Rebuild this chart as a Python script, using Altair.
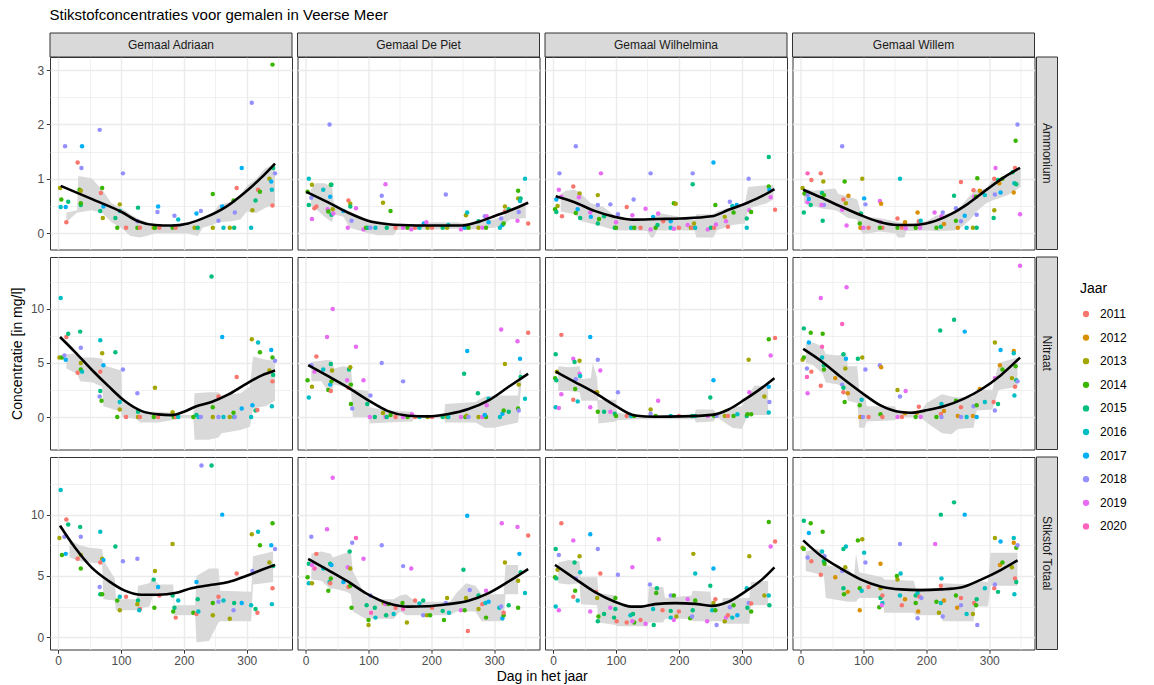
import altair as alt
import pandas as pd

# ---- categories -------------------------------------------------------------
JAREN = [str(j) for j in range(2011, 2021)]
KLEUREN = ["#F8766D", "#D89000", "#A3A500", "#39B600", "#00BF7D",
           "#00BFC4", "#00B0F6", "#9590FF", "#E76BF3", "#FF62BC"]
GEMALEN = ["Gemaal Adriaan", "Gemaal De Piet", "Gemaal Wilhelmina", "Gemaal Willem"]
STOFFEN = ["Ammonium", "Nitraat", "Stikstof Totaal"]

# ---- axis ranges and grid breaks -------------------------------------------
X_DOMEIN = [-13, 372]
X_RASTER = [0, 50, 100, 150, 200, 250, 300, 350]
Y_DOMEIN = {"Ammonium": [-0.3, 3.24], "Nitraat": [-3.0, 14.8], "Stikstof Totaal": [-1.0, 14.7]}
Y_RASTER = {"Ammonium": [0, 0.5, 1, 1.5, 2, 2.5, 3],
            "Nitraat": [0, 2.5, 5, 7.5, 10, 12.5],
            "Stikstof Totaal": [0, 2.5, 5, 7.5, 10, 12.5]}
Y_STAP = {"Ammonium": 1, "Nitraat": 5, "Stikstof Totaal": 5}

# ---- measurements: (day of year, concentration, year) ----------------------
AMMONIUM_ADRIAAN = [
    (3, 0.83, 2013), (5, 0.62, 2014), (4, 0.48, 2016), (11, 1.6, 2018), (12, 0.48, 2017),
    (13, 0.2, 2011), (16, 0.58, 2015), (31, 1.3, 2011), (34, 0.8, 2014), (36, 0.52, 2015),
    (37, 1.2, 2018), (38, 1.6, 2017), (36, 0.55, 2014), (36, 0.78, 2013), (66, 1.9, 2018),
    (68, 0.74, 2011), (70, 0.83, 2014), (67, 0.41, 2015), (71, 0.28, 2013), (72, 0.49, 2017),
    (91, 0.28, 2015), (94, 0.1, 2014), (98, 0.53, 2013), (98, 0.41, 2016), (103, 1.1, 2018),
    (108, 0.1, 2011), (126, 0.1, 2014), (127, 0.47, 2015), (126, 0.22, 2018), (130, 0.1, 2011),
    (152, 0.1, 2013), (154, 0.1, 2014), (158, 0.39, 2018), (159, 0.49, 2017), (161, 0.1, 2011),
    (182, 0.1, 2014), (185, 0.32, 2018), (187, 0.1, 2011), (191, 0.25, 2016), (217, 0.1, 2013),
    (220, 0.36, 2017), (222, 0.1, 2015), (227, 0.41, 2018), (246, 0.72, 2014), (246, 0.1, 2013),
    (255, 0.23, 2018), (261, 0.49, 2017), (263, 0.1, 2016), (273, 0.1, 2013), (279, 0.6, 2014),
    (280, 0.1, 2015), (281, 0.38, 2018), (284, 0.83, 2011), (292, 1.2, 2017), (308, 2.4, 2018),
    (307, 0.1, 2016), (309, 0.42, 2013), (314, 0.6, 2015), (318, 0.8, 2011), (321, 0.76, 2014),
    (336, 1.0, 2013), (339, 0.95, 2017), (340, 0.8, 2016), (341, 0.51, 2011), (341, 3.1, 2014),
    (342, 1.2, 2015), (345, 1.1, 2018),
]
AMMONIUM_DE_PIET = [
    (5, 1.0, 2016), (3, 0.76, 2014), (10, 0.89, 2013), (9, 0.65, 2018), (5, 0.52, 2015),
    (14, 0.46, 2011), (17, 0.49, 2011), (10, 0.26, 2019), (28, 0.8, 2016), (38, 2.0, 2018),
    (40, 0.89, 2014), (41, 0.89, 2015), (39, 0.67, 2017), (35, 0.44, 2019), (36, 0.4, 2014),
    (41, 0.34, 2015), (43, 0.44, 2013), (44, 0.36, 2019), (60, 0.41, 2017), (68, 0.6, 2011),
    (71, 0.54, 2013), (71, 0.49, 2015), (73, 0.23, 2018), (80, 0.46, 2019), (67, 0.1, 2019),
    (92, 0.07, 2019), (96, 0.1, 2014), (99, 0.1, 2015), (103, 0.1, 2018), (111, 0.1, 2016),
    (121, 0.69, 2018), (123, 0.56, 2013), (127, 0.9, 2019), (135, 0.41, 2014), (129, 0.1, 2015),
    (143, 0.1, 2011), (155, 0.1, 2019), (162, 0.1, 2014), (168, 0.07, 2019), (174, 0.1, 2011),
    (181, 0.1, 2016), (188, 0.18, 2017), (192, 0.2, 2019), (194, 0.1, 2013), (201, 0.1, 2011),
    (218, 0.1, 2015), (223, 0.71, 2018), (225, 0.1, 2013), (227, 0.15, 2016), (247, 0.07, 2019),
    (253, 0.1, 2017), (255, 0.33, 2013), (257, 0.38, 2016), (259, 0.1, 2014), (275, 0.22, 2015),
    (275, 0.1, 2013), (281, 0.1, 2019), (285, 0.31, 2018), (288, 0.31, 2019), (287, 0.1, 2014),
    (291, 0.2, 2017), (309, 0.1, 2016), (313, 0.15, 2017), (315, 0.18, 2014), (311, 0.27, 2018),
    (317, 0.49, 2013), (317, 0.4, 2011), (323, 0.44, 2015), (338, 0.78, 2014), (338, 0.64, 2013),
    (342, 0.64, 2015), (341, 0.59, 2016), (349, 1.0, 2016), (339, 0.39, 2018), (337, 0.23, 2019),
    (354, 0.18, 2011),
]
AMMONIUM_WILHELMINA = [
    (10, 1.1, 2018), (9, 0.8, 2019), (13, 0.67, 2019), (5, 0.62, 2017), (7, 0.5, 2013),
    (3, 0.44, 2014), (5, 0.39, 2015), (14, 0.31, 2011), (32, 0.86, 2011), (36, 1.6, 2018),
    (42, 0.73, 2013), (41, 0.66, 2019), (39, 0.44, 2017), (36, 0.37, 2014), (43, 0.28, 2015),
    (59, 0.38, 2019), (60, 0.3, 2017), (71, 0.7, 2013), (71, 0.52, 2018), (73, 0.26, 2014),
    (71, 0.18, 2015), (81, 0.31, 2015), (76, 1.1, 2019), (91, 0.53, 2018), (98, 0.1, 2015),
    (100, 0.2, 2019), (100, 0.1, 2014), (103, 0.35, 2018), (117, 0.48, 2011), (124, 0.1, 2016),
    (126, 0.33, 2019), (128, 0.62, 2018), (129, 0.1, 2014), (139, 0.1, 2011), (147, 0.45, 2019),
    (155, 1.1, 2018), (155, 0.07, 2019), (159, 0.3, 2017), (163, 0.1, 2014), (167, 0.36, 2019),
    (166, 0.15, 2015), (175, 0.22, 2011), (187, 0.22, 2017), (187, 0.1, 2016), (192, 0.55, 2014),
    (195, 0.54, 2013), (192, 0.08, 2019), (200, 0.1, 2011), (214, 0.15, 2019), (219, 0.1, 2013),
    (221, 0.1, 2011), (222, 1.1, 2018), (222, 0.9, 2015), (224, 0.18, 2013), (226, 0.1, 2016),
    (246, 0.07, 2019), (251, 0.1, 2015), (255, 1.3, 2017), (256, 0.1, 2011), (258, 0.52, 2014),
    (259, 0.16, 2019), (273, 0.3, 2013), (275, 0.22, 2019), (278, 0.12, 2011), (281, 0.58, 2018),
    (285, 0.5, 2016), (287, 0.38, 2014), (292, 0.52, 2017), (308, 0.27, 2015), (308, 0.1, 2016),
    (311, 1.0, 2018), (312, 0.42, 2019), (315, 0.39, 2014), (343, 1.4, 2015), (343, 0.86, 2014),
    (344, 0.8, 2017), (346, 0.66, 2019), (353, 0.43, 2011),
]
AMMONIUM_WILLEM = [
    (3, 0.83, 2013), (6, 0.73, 2014), (11, 1.1, 2020), (17, 0.98, 2011), (32, 1.1, 2011),
    (36, 0.95, 2013), (5, 0.38, 2015), (11, 0.57, 2019), (13, 0.63, 2017), (16, 0.52, 2015),
    (11, 0.7, 2018), (34, 0.74, 2015), (37, 0.7, 2014), (37, 0.52, 2018), (33, 0.52, 2019),
    (35, 0.23, 2015), (66, 1.6, 2018), (70, 0.95, 2014), (68, 0.62, 2011), (72, 0.55, 2013),
    (76, 0.69, 2012), (66, 0.43, 2019), (73, 0.14, 2019), (98, 1.0, 2013), (101, 0.64, 2017),
    (103, 0.53, 2018), (96, 0.36, 2015), (94, 0.18, 2014), (95, 0.1, 2012), (100, 0.1, 2019),
    (108, 0.1, 2011), (126, 0.59, 2019), (128, 0.54, 2012), (127, 0.2, 2019), (130, 0.1, 2011),
    (126, 0.1, 2014), (158, 1.0, 2016), (154, 0.27, 2011), (154, 0.1, 2014), (161, 0.1, 2011),
    (167, 0.09, 2019), (166, 0.2, 2012), (186, 0.38, 2012), (188, 0.22, 2011), (191, 0.23, 2016),
    (190, 0.1, 2019), (183, 0.1, 2014), (213, 0.38, 2019), (216, 0.1, 2014), (224, 0.31, 2019),
    (226, 0.38, 2018), (223, 0.12, 2015), (228, 0.17, 2012), (244, 0.69, 2015), (247, 0.46, 2018),
    (247, 0.23, 2014), (250, 0.1, 2012), (255, 0.94, 2011), (261, 0.32, 2017), (255, 0.22, 2018),
    (264, 0.1, 2016), (274, 0.1, 2013), (280, 0.1, 2015), (280, 0.34, 2018), (275, 0.79, 2011),
    (276, 0.67, 2019), (279, 0.67, 2014), (281, 1.01, 2014), (285, 0.78, 2012), (293, 0.7, 2016),
    (308, 1.0, 2011), (310, 1.2, 2019), (309, 0.71, 2018), (308, 0.42, 2013), (307, 0.28, 2015),
    (314, 0.98, 2015), (316, 0.92, 2012), (318, 0.75, 2017), (321, 1.0, 2014), (337, 1.12, 2015),
    (341, 1.2, 2011), (340, 0.92, 2016), (343, 0.9, 2015), (339, 0.75, 2012), (342, 1.7, 2014),
    (345, 2.0, 2018), (349, 0.35, 2019),
]
NITRAAT_ADRIAAN = [
    (4, 11.0, 2016), (2, 5.5, 2013), (6, 5.5, 2014), (10, 5.7, 2018), (12, 5.3, 2017),
    (13, 7.4, 2011), (16, 7.7, 2015), (35, 7.9, 2015), (36, 6.4, 2018), (36, 5.0, 2013),
    (36, 4.4, 2014), (38, 4.2, 2016), (31, 4.1, 2011), (67, 7.1, 2016), (70, 5.9, 2013),
    (72, 4.8, 2017), (67, 4.2, 2011), (67, 2.4, 2015), (66, 1.9, 2018), (69, 1.5, 2014),
    (91, 6.0, 2015), (103, 4.4, 2018), (98, 1.4, 2016), (98, 0.7, 2013), (94, 0.0, 2014),
    (108, 0.0, 2011), (126, 2.2, 2018), (127, 0.5, 2015), (127, 0.0, 2013), (130, 0.0, 2011),
    (154, 2.7, 2013), (152, 0.0, 2014), (159, 0.0, 2011), (182, 0.45, 2013), (184, 0.0, 2014),
    (187, 0.0, 2011), (191, 0.0, 2016), (244, 13.0, 2015), (215, 0.0, 2014), (220, 0.2, 2015),
    (223, 0.0, 2016), (227, 0.0, 2018), (246, 0.9, 2014), (246, 0.0, 2013), (255, 1.9, 2011),
    (255, 0.0, 2018), (261, 7.4, 2017), (263, 0.0, 2016), (273, 0.0, 2013), (279, 0.4, 2014),
    (280, 0.0, 2015), (281, 0.0, 2018), (284, 3.7, 2011), (292, 0.8, 2017), (307, 0.0, 2016),
    (308, 7.2, 2013), (309, 1.1, 2017), (314, 0.6, 2015), (317, 0.65, 2011), (318, 6.9, 2016),
    (321, 6.0, 2014), (336, 4.3, 2013), (339, 6.2, 2017), (340, 1.0, 2016), (341, 3.3, 2011),
    (341, 5.5, 2014), (342, 3.9, 2015), (345, 5.2, 2018),
]
NITRAAT_DE_PIET = [
    (3, 3.4, 2014), (5, 1.8, 2016), (9, 4.8, 2018), (10, 2.8, 2013), (17, 5.6, 2011),
    (14, 4.2, 2019), (34, 7.4, 2019), (43, 10.0, 2019), (28, 4.4, 2016), (40, 4.9, 2015),
    (42, 4.3, 2013), (39, 3.0, 2017), (41, 3.3, 2014), (36, 2.5, 2014), (40, 2.4, 2011),
    (66, 3.4, 2019), (69, 4.4, 2015), (71, 4.6, 2013), (72, 3.0, 2014), (80, 6.5, 2019),
    (72, 1.2, 2014), (74, 0.8, 2018), (68, 2.7, 2011), (92, 3.4, 2019), (98, 1.2, 2015),
    (103, 2.0, 2018), (102, 0.0, 2019), (110, 0.0, 2015), (121, 5.0, 2018), (123, 0.37, 2013),
    (127, 0.0, 2019), (135, 0.2, 2014), (129, 0.0, 2015), (143, 0.0, 2011), (155, 3.3, 2018),
    (155, 0.0, 2019), (162, 0.0, 2014), (169, 0.25, 2019), (174, 0.0, 2011), (181, 0.0, 2016),
    (194, 0.0, 2013), (201, 0.0, 2011), (218, 0.0, 2015), (225, 0.0, 2013), (227, 0.0, 2016),
    (247, 0.0, 2019), (257, 6.1, 2017), (252, 4.0, 2015), (254, 0.0, 2014), (256, 0.12, 2013),
    (259, 0.0, 2018), (274, 2.2, 2015), (275, 0.0, 2013), (281, 0.0, 2019), (287, 0.0, 2014),
    (288, 1.1, 2019), (291, 1.7, 2016), (285, 0.2, 2017), (309, 0.0, 2016), (313, 0.3, 2017),
    (315, 0.6, 2014), (311, 8.1, 2019), (317, 4.9, 2013), (323, 0.5, 2015), (337, 7.0, 2019),
    (341, 5.4, 2017), (338, 0.8, 2014), (339, 0.6, 2018), (342, 3.7, 2015), (339, 3.0, 2013),
    (349, 1.7, 2016), (354, 7.8, 2011),
]
NITRAAT_WILHELMINA = [
    (13, 7.6, 2011), (4, 5.8, 2015), (32, 5.4, 2019), (34, 5.1, 2015), (42, 5.2, 2013),
    (59, 7.4, 2017), (71, 5.3, 2018), (75, 4.3, 2019), (3, 3.6, 2014), (5, 3.4, 2015),
    (6, 4.2, 2013), (42, 4.0, 2019), (43, 3.8, 2016), (36, 3.5, 2018), (35, 2.6, 2014),
    (13, 2.1, 2019), (32, 1.6, 2011), (39, 1.45, 2016), (4, 0.9, 2016), (9, 0.83, 2019),
    (59, 0.9, 2019), (68, 2.3, 2011), (70, 2.3, 2013), (71, 0.5, 2014), (81, 0.5, 2015),
    (91, 0.5, 2019), (98, 0.3, 2015), (100, 0.1, 2014), (103, 2.3, 2018), (117, 0.1, 2011),
    (124, 0.1, 2016), (129, 0.1, 2014), (155, 0.7, 2013), (155, 0.3, 2018), (167, 1.5, 2019),
    (163, 0.1, 2014), (187, 0.1, 2016), (200, 0.1, 2011), (221, 0.1, 2015), (226, 0.1, 2016),
    (246, 0.1, 2019), (250, 1.8, 2015), (255, 3.4, 2017), (256, 0.1, 2014), (260, 0.1, 2018),
    (273, 0.1, 2013), (278, 0.1, 2011), (287, 0.1, 2014), (293, 0.25, 2016), (308, 0.1, 2015),
    (309, 0.25, 2014), (315, 0.25, 2014), (311, 5.3, 2013), (312, 2.3, 2019), (336, 1.9, 2013),
    (343, 2.8, 2017), (343, 7.2, 2014), (344, 1.4, 2018), (343, 0.43, 2016), (346, 5.7, 2019),
    (353, 7.3, 2011),
]
NITRAAT_WILLEM = [
    (5, 8.2, 2015), (16, 7.8, 2014), (35, 7.7, 2014), (32, 11.0, 2019), (73, 12.0, 2019),
    (66, 8.6, 2020), (13, 6.9, 2017), (3, 5.3, 2013), (5, 5.5, 2014), (34, 6.5, 2020),
    (34, 5.5, 2016), (37, 4.8, 2015), (37, 4.4, 2014), (10, 4.5, 2018), (17, 4.2, 2011),
    (10, 3.7, 2020), (32, 2.9, 2011), (11, 2.2, 2019), (55, 3.6, 2012), (68, 5.8, 2015),
    (72, 5.4, 2017), (71, 4.5, 2013), (66, 3.0, 2018), (68, 2.7, 2015), (68, 2.3, 2011),
    (75, 2.2, 2012), (70, 1.4, 2014), (91, 5.4, 2015), (98, 5.5, 2013), (103, 4.4, 2018),
    (97, 1.6, 2016), (94, 1.1, 2014), (95, 0.0, 2012), (99, 0.0, 2018), (108, 0.0, 2011),
    (126, 4.8, 2018), (128, 4.6, 2012), (127, 0.25, 2014), (130, 0.0, 2011), (154, 2.5, 2013),
    (158, 1.9, 2018), (167, 2.4, 2019), (154, 0.0, 2019), (161, 0.0, 2011), (166, 0.35, 2012),
    (188, 0.95, 2011), (185, 0.4, 2012), (183, 0.0, 2014), (191, 0.0, 2019), (222, 8.0, 2015),
    (244, 9.0, 2015), (261, 7.9, 2017), (224, 1.2, 2016), (228, 0.55, 2012), (223, 0.28, 2011),
    (216, 0.0, 2014), (224, 0.0, 2018), (247, 1.5, 2014), (255, 0.9, 2011), (250, 0.1, 2012),
    (255, 0.0, 2018), (264, 0.0, 2016), (274, 0.1, 2012), (275, 1.0, 2018), (280, 1.1, 2014),
    (280, 0.0, 2017), (285, 2.6, 2012), (293, 1.4, 2016), (307, 1.4, 2011), (309, 0.6, 2018),
    (314, 1.2, 2015), (309, 6.9, 2013), (318, 6.2, 2017), (317, 4.8, 2012), (321, 4.4, 2014),
    (309, 3.6, 2019), (336, 3.6, 2013), (339, 6.1, 2012), (339, 5.9, 2016), (342, 4.7, 2014),
    (343, 3.4, 2015), (345, 3.3, 2018), (341, 2.8, 2011), (340, 2.0, 2016), (349, 14.0, 2019),
]
TOTAAL_ADRIAAN = [
    (4, 12.0, 2016), (2, 8.1, 2013), (6, 6.7, 2014), (10, 8.2, 2018), (12, 6.8, 2017),
    (13, 9.6, 2011), (16, 9.2, 2015), (35, 9.0, 2015), (36, 8.2, 2018), (36, 6.7, 2013),
    (36, 5.6, 2014), (31, 6.4, 2011), (67, 8.6, 2016), (70, 6.4, 2013), (72, 6.3, 2017),
    (67, 6.1, 2011), (66, 4.1, 2018), (67, 3.5, 2015), (70, 3.5, 2014), (91, 7.4, 2015),
    (103, 6.2, 2018), (98, 3.3, 2016), (98, 2.2, 2013), (94, 3.0, 2014), (108, 3.3, 2011),
    (126, 6.4, 2018), (127, 3.0, 2015), (126, 2.7, 2013), (130, 2.3, 2011), (129, 2.2, 2016),
    (154, 5.4, 2013), (152, 4.7, 2015), (153, 2.4, 2014), (159, 4.1, 2017), (161, 3.4, 2011),
    (182, 7.6, 2013), (182, 3.4, 2015), (183, 2.1, 2014), (185, 2.4, 2015), (187, 1.6, 2011),
    (191, 3.0, 2016), (228, 14.0, 2018), (244, 14.0, 2015), (220, 4.5, 2017), (222, 3.1, 2015),
    (215, 2.0, 2014), (220, 1.9, 2011), (223, 2.1, 2016), (246, 2.8, 2014), (246, 1.8, 2013),
    (255, 3.3, 2011), (255, 2.9, 2018), (261, 10.0, 2017), (263, 3.0, 2016), (273, 1.5, 2013),
    (279, 2.2, 2018), (280, 2.8, 2015), (284, 5.2, 2011), (292, 2.8, 2017), (307, 2.6, 2016),
    (308, 8.4, 2013), (309, 5.4, 2018), (314, 2.3, 2015), (317, 2.0, 2011), (318, 8.6, 2016),
    (321, 7.5, 2014), (336, 6.1, 2013), (339, 7.5, 2017), (340, 2.7, 2016), (341, 4.0, 2011),
    (341, 9.3, 2014), (342, 5.8, 2015), (345, 7.2, 2018),
]
TOTAAL_DE_PIET = [
    (3, 4.9, 2014), (5, 4.4, 2016), (10, 4.4, 2013), (5, 6.0, 2015), (9, 8.2, 2018),
    (10, 5.9, 2019), (14, 5.6, 2020), (17, 6.8, 2011), (34, 8.8, 2019), (43, 13.0, 2019),
    (28, 5.6, 2016), (39, 6.0, 2015), (41, 5.9, 2017), (38, 4.5, 2016), (40, 4.8, 2014),
    (36, 3.8, 2014), (39, 4.4, 2011), (60, 4.5, 2017), (67, 5.7, 2019), (68, 4.1, 2011),
    (70, 7.0, 2015), (71, 5.6, 2013), (71, 4.2, 2014), (73, 2.4, 2014), (74, 7.7, 2018),
    (80, 8.1, 2020), (92, 6.4, 2019), (97, 2.6, 2015), (100, 1.4, 2014), (100, 1.0, 2013),
    (103, 3.4, 2018), (104, 2.0, 2020), (110, 2.4, 2015), (111, 1.6, 2016), (121, 7.5, 2018),
    (124, 2.8, 2013), (127, 2.7, 2019), (128, 1.8, 2015), (132, 2.7, 2014), (140, 1.9, 2016),
    (143, 2.4, 2011), (155, 5.8, 2018), (155, 2.3, 2020), (154, 2.8, 2014), (161, 1.2, 2013),
    (168, 5.6, 2019), (174, 3.0, 2011), (181, 2.75, 2016), (187, 3.0, 2015), (187, 1.8, 2018),
    (193, 1.8, 2013), (198, 1.8, 2014), (201, 2.4, 2011), (218, 2.15, 2015), (223, 2.8, 2018),
    (225, 3.2, 2013), (220, 1.4, 2014), (228, 2.0, 2016), (247, 2.2, 2019), (253, 2.2, 2014),
    (255, 3.2, 2013), (251, 5.5, 2015), (257, 9.9, 2017), (261, 3.85, 2018), (258, 0.5, 2011),
    (275, 3.4, 2015), (275, 2.3, 2013), (281, 2.7, 2011), (287, 3.8, 2019), (286, 2.8, 2016),
    (287, 1.6, 2014), (291, 2.9, 2017), (308, 2.4, 2016), (311, 2.5, 2018), (312, 9.3, 2019),
    (313, 1.55, 2017), (315, 1.8, 2014), (317, 6.1, 2013), (315, 2.0, 2011), (323, 2.6, 2015),
    (337, 9.0, 2019), (340, 6.8, 2017), (338, 4.6, 2013), (338, 2.4, 2014), (342, 5.3, 2015),
    (349, 3.6, 2016), (354, 8.3, 2011),
]
TOTAAL_WILHELMINA = [
    (13, 9.3, 2011), (4, 7.2, 2015), (9, 6.7, 2018), (32, 7.9, 2019), (34, 6.1, 2015),
    (42, 6.6, 2013), (59, 8.4, 2017), (71, 7.2, 2018), (75, 5.2, 2011), (3, 4.9, 2014),
    (5, 4.8, 2015), (7, 5.5, 2013), (43, 5.3, 2016), (36, 4.8, 2018), (35, 3.8, 2014),
    (32, 3.3, 2011), (39, 3.0, 2016), (4, 2.5, 2016), (9, 2.2, 2019), (59, 2.1, 2019),
    (68, 3.7, 2011), (70, 3.2, 2013), (72, 1.7, 2014), (71, 1.3, 2015), (81, 1.9, 2015),
    (91, 2.4, 2019), (97, 1.6, 2015), (99, 3.2, 2014), (99, 2.3, 2015), (101, 1.3, 2011),
    (103, 5.1, 2018), (117, 1.2, 2011), (123, 1.8, 2016), (126, 5.7, 2019), (127, 1.9, 2015),
    (129, 1.2, 2014), (126, 1.3, 2019), (139, 1.4, 2011), (147, 1.1, 2019), (154, 4.3, 2018),
    (164, 3.6, 2014), (165, 4.0, 2015), (159, 2.3, 2016), (160, 1.0, 2015), (168, 8.0, 2019),
    (174, 2.2, 2011), (187, 3.4, 2018), (187, 2.15, 2015), (187, 1.6, 2016), (192, 3.4, 2014),
    (196, 1.7, 2013), (192, 1.4, 2019), (200, 2.1, 2011), (214, 3.1, 2019), (218, 1.55, 2014),
    (222, 2.2, 2015), (223, 6.8, 2013), (226, 3.0, 2014), (221, 1.7, 2018), (226, 5.2, 2016),
    (245, 1.3, 2019), (250, 4.2, 2015), (255, 5.6, 2017), (253, 2.2, 2016), (255, 2.8, 2013),
    (258, 3.1, 2011), (258, 2.2, 2014), (260, 1.0, 2018), (273, 1.3, 2013), (275, 1.6, 2019),
    (278, 1.8, 2011), (281, 2.45, 2018), (285, 1.6, 2016), (287, 2.6, 2014), (293, 1.8, 2017),
    (308, 4.0, 2016), (309, 2.4, 2015), (311, 2.8, 2018), (312, 6.6, 2013), (315, 2.1, 2014),
    (315, 2.75, 2011), (336, 3.4, 2013), (343, 9.4, 2014), (343, 3.4, 2016), (344, 2.6, 2015),
    (346, 7.4, 2019), (353, 7.8, 2011),
]
TOTAAL_WILLEM = [
    (5, 9.5, 2015), (16, 9.3, 2014), (35, 8.6, 2014), (13, 8.5, 2017), (3, 7.3, 2013),
    (5, 7.2, 2014), (34, 7.0, 2016), (11, 6.5, 2018), (17, 6.2, 2011), (32, 5.1, 2011),
    (37, 6.2, 2015), (38, 6.0, 2014), (38, 6.6, 2018), (55, 4.9, 2012), (68, 7.2, 2015),
    (72, 7.4, 2016), (71, 5.7, 2013), (66, 5.4, 2018), (68, 4.0, 2015), (69, 3.5, 2014),
    (75, 3.7, 2012), (91, 7.9, 2014), (98, 8.0, 2013), (101, 6.9, 2016), (103, 6.1, 2018),
    (94, 4.0, 2014), (97, 3.8, 2016), (94, 2.2, 2012), (108, 4.1, 2011), (127, 6.0, 2012),
    (127, 4.0, 2013), (125, 2.45, 2014), (127, 3.2, 2015), (130, 3.4, 2011), (130, 2.8, 2016),
    (129, 2.6, 2019), (158, 7.6, 2018), (159, 5.2, 2016), (153, 5.0, 2014), (154, 4.7, 2013),
    (158, 3.4, 2016), (161, 2.6, 2011), (166, 3.1, 2012), (183, 3.4, 2015), (186, 3.6, 2016),
    (183, 2.8, 2014), (189, 3.3, 2011), (192, 3.2, 2018), (187, 2.1, 2012), (186, 1.55, 2018),
    (214, 7.6, 2019), (216, 2.9, 2014), (223, 10.0, 2015), (224, 4.8, 2016), (223, 4.2, 2011),
    (220, 2.0, 2013), (223, 2.8, 2016), (226, 1.7, 2018), (228, 3.0, 2012), (244, 11.0, 2015),
    (261, 10.0, 2017), (247, 3.4, 2014), (249, 2.4, 2012), (255, 3.2, 2011), (255, 2.6, 2018),
    (264, 1.9, 2016), (274, 1.9, 2013), (276, 2.8, 2011), (279, 2.6, 2014), (280, 3.1, 2015),
    (281, 1.0, 2018), (293, 4.0, 2016), (308, 4.0, 2011), (309, 8.1, 2013), (309, 4.3, 2018),
    (314, 3.7, 2015), (318, 7.8, 2017), (317, 5.9, 2012), (321, 6.1, 2014), (339, 8.1, 2016),
    (339, 7.7, 2012), (336, 5.7, 2013), (343, 7.3, 2014), (345, 7.5, 2018), (341, 4.8, 2011),
    (343, 4.5, 2015), (340, 3.5, 2016),
]

# ---- grey bands: (day, lower, upper) ----------------------------------------
BAND_AMMONIUM_ADRIAAN = [
    (13, 0.2, 0.38), (30, 0.38, 0.42), (32, 0.38, 1.05), (53, 0.42, 1.01), (70, 0.37, 0.80),
    (85, 0.20, 0.55), (100, 0.10, 0.47), (115, -0.05, 0.35), (130, -0.08, 0.25), (140, -0.05, 0.20),
    (155, 0.0, 0.17), (180, 0.0, 0.14), (205, 0.0, 0.14), (222, -0.05, 0.20), (230, 0.10, 0.25),
    (245, 0.15, 0.33), (255, 0.20, 0.52), (275, 0.22, 0.58), (290, 0.25, 0.70), (300, 0.40, 0.87),
    (315, 0.37, 1.00), (330, 0.47, 1.20), (345, 0.53, 1.26),
]
BAND_AMMONIUM_DE_PIET = [
    (8, 0.50, 0.80), (16, 0.45, 0.92), (30, 0.30, 0.92), (42, 0.20, 0.85), (45, 0.35, 0.55),
    (60, 0.30, 0.45), (70, 0.10, 0.40), (85, 0.05, 0.32), (100, 0.0, 0.25), (115, -0.04, 0.22),
    (140, -0.04, 0.18), (145, 0.06, 0.17), (180, 0.07, 0.17), (200, 0.07, 0.20), (240, 0.08, 0.20),
    (255, 0.06, 0.18), (275, 0.08, 0.22), (300, 0.10, 0.25), (315, 0.15, 0.32), (325, 0.25, 0.45),
    (350, 0.28, 0.56),
]
BAND_AMMONIUM_WILHELMINA = [
    (12, 0.40, 0.72), (20, 0.38, 0.78), (35, 0.35, 0.80), (45, 0.22, 0.72), (60, 0.18, 0.55),
    (80, 0.12, 0.48), (100, 0.05, 0.30), (120, 0.05, 0.26), (150, 0.04, 0.26), (155, -0.08, 0.25),
    (160, -0.08, 0.25), (165, 0.05, 0.38), (200, 0.05, 0.30), (225, 0.05, 0.25), (228, -0.08, 0.35),
    (255, -0.08, 0.35), (260, 0.05, 0.40), (285, 0.15, 0.48), (305, 0.18, 0.55), (310, 0.45, 0.85),
    (340, 0.55, 0.88), (350, 0.62, 0.88),
]
BAND_AMMONIUM_WILLEM = [
    (5, 0.55, 0.82), (20, 0.50, 0.78), (35, 0.45, 0.80), (55, 0.42, 0.82), (60, 0.40, 0.72),
    (75, 0.28, 0.68), (90, 0.25, 0.62), (95, 0.05, 0.42), (100, -0.02, 0.30), (125, 0.03, 0.28),
    (150, 0.0, 0.22), (155, -0.08, 0.20), (165, -0.08, 0.18), (168, 0.04, 0.17), (200, 0.05, 0.22),
    (215, 0.04, 0.32), (245, 0.05, 0.38), (255, 0.10, 0.50), (270, 0.25, 0.70), (280, 0.40, 0.80),
    (295, 0.55, 0.82), (305, 0.60, 0.98), (330, 0.70, 1.05), (350, 0.85, 1.18),
]
BAND_NITRAAT_ADRIAAN = [
    (13, 4.5, 5.8), (30, 4.0, 5.9), (35, 3.3, 5.5), (55, 3.2, 5.5), (70, 2.8, 5.4),
    (72, 1.0, 4.8), (100, 0.5, 4.3), (102, 0.0, 1.5), (125, -0.2, 0.8), (130, -0.5, 0.5),
    (160, -0.5, 0.5), (180, -0.3, 0.4), (195, -0.1, 0.2), (215, -0.1, 0.2), (217, -2.1, 2.2),
    (240, -2.1, 2.3), (255, -1.9, 2.3), (260, -1.5, 2.0), (290, -1.2, 2.2), (305, -0.9, 2.8),
    (310, 0.8, 5.6), (330, 1.0, 5.3), (345, 1.5, 5.2),
]
BAND_NITRAAT_DE_PIET = [
    (9, 3.3, 5.1), (25, 3.3, 5.2), (35, 2.4, 5.3), (42, 2.4, 5.2), (45, 3.0, 4.5),
    (60, 2.8, 4.7), (72, 2.5, 4.6), (75, 0.0, 2.6), (100, 0.0, 2.4), (102, -0.6, 0.9),
    (130, -0.5, 0.6), (170, -0.4, 0.5), (172, -0.1, 0.1), (220, -0.1, 0.1), (222, -0.5, 1.2),
    (270, -0.5, 1.4), (285, -1.0, 1.9), (300, -1.0, 2.0), (338, -0.5, 2.0), (340, 0.8, 4.3),
    (343, 3.0, 4.4),
]
BAND_NITRAAT_WILHELMINA = [
    (8, 2.4, 4.7), (25, 2.4, 4.6), (42, 2.3, 4.7), (45, 1.5, 3.5), (60, 1.5, 3.6),
    (63, 1.5, 5.0), (70, 1.5, 3.6), (72, -0.6, 1.6), (100, -0.4, 1.6), (102, -0.3, 0.4),
    (130, -0.2, 0.2), (225, -0.2, 0.2), (227, -0.5, 0.7), (255, -0.4, 0.7), (260, 0.0, 0.3),
    (285, -1.0, 0.9), (300, -1.1, 1.0), (310, 0.2, 2.0), (320, 0.2, 2.9), (342, 0.2, 2.9),
]
BAND_NITRAAT_WILLEM = [
    (8, 5.0, 6.8), (20, 4.8, 6.9), (35, 4.0, 6.5), (40, 3.2, 5.8), (60, 3.0, 5.7),
    (72, 2.5, 6.0), (75, 1.5, 4.7), (90, 1.3, 4.7), (93, -1.0, 2.5), (102, -1.0, 2.3),
    (105, -0.4, 1.0), (150, -0.3, 1.0), (155, 0.0, 0.4), (190, 0.0, 0.4), (200, -0.5, 1.3),
    (225, -1.5, 2.1), (240, -1.6, 1.9), (250, -1.1, 1.8), (275, -1.0, 1.9), (280, 0.6, 2.6),
    (305, 0.7, 2.5), (315, 2.5, 5.0), (345, 2.8, 5.5),
]
BAND_TOTAAL_ADRIAAN = [
    (18, 6.5, 7.9), (35, 6.2, 7.5), (50, 6.1, 7.3), (70, 6.0, 7.2), (72, 3.1, 6.3),
    (90, 3.0, 4.8), (92, 2.2, 3.1), (125, 2.2, 3.1), (127, 2.3, 4.2), (145, 2.5, 4.4),
    (150, 3.3, 4.9), (160, 3.4, 4.3), (183, 3.4, 4.3), (185, 1.8, 2.6), (218, 1.8, 2.6),
    (220, -0.4, 5.0), (240, -0.3, 5.6), (255, 1.2, 5.6), (258, 1.3, 3.8), (307, 1.3, 3.7),
    (310, 4.3, 6.6), (342, 4.5, 7.0),
]
BAND_TOTAAL_DE_PIET = [
    (9, 4.7, 6.8), (25, 4.6, 7.0), (40, 3.9, 6.8), (43, 4.0, 6.5), (65, 3.7, 6.9),
    (72, 3.5, 7.0), (75, 2.1, 5.4), (95, 1.5, 3.4), (110, 1.5, 3.1), (140, 1.5, 3.1),
    (150, 2.1, 3.4), (160, 1.8, 3.5), (175, 1.8, 2.9), (230, 1.8, 2.9), (240, 2.1, 3.6),
    (255, 2.1, 4.4), (270, 2.1, 4.2), (280, 1.3, 3.5), (315, 1.3, 3.5), (318, 3.5, 5.9),
    (338, 3.5, 5.9),
]
BAND_TOTAAL_WILHELMINA = [
    (8, 4.4, 6.1), (25, 4.3, 6.3), (42, 4.4, 6.2), (44, 2.7, 4.9), (70, 2.6, 4.9),
    (72, 1.2, 3.6), (100, 1.0, 3.4), (102, 0.9, 2.6), (150, 0.9, 2.4), (152, 1.2, 4.1),
    (175, 1.2, 4.1), (178, 1.5, 3.2), (220, 1.5, 3.4), (222, 1.3, 3.8), (250, 1.3, 3.7),
    (253, 1.3, 2.5), (268, 1.3, 2.5), (270, 1.1, 3.2), (312, 1.1, 3.2), (315, 2.6, 4.5),
    (342, 2.6, 4.6),
]
BAND_TOTAAL_WILLEM = [
    (8, 5.4, 7.0), (25, 5.2, 7.2), (37, 5.0, 7.1), (40, 3.2, 5.9), (75, 2.9, 5.6),
    (85, 2.9, 5.0), (88, 2.9, 6.8), (93, 3.2, 5.3), (130, 3.2, 4.9), (133, 2.0, 4.7),
    (180, 2.0, 4.6), (183, 1.8, 4.0), (223, 1.8, 4.0), (226, 1.3, 4.4), (275, 1.3, 4.3),
    (278, 2.5, 4.6), (298, 2.5, 4.5), (302, 4.2, 6.9), (345, 4.2, 6.9),
]

# ---- seasonal trend lines: (day, concentration) -----------------------------
TREND_AMMONIUM_ADRIAAN = [(4, 0.87), (53, 0.63), (101, 0.39), (127, 0.22), (154, 0.15), (180, 0.14),
                          (207, 0.18), (234, 0.29), (265, 0.47), (297, 0.75), (324, 1.03), (345, 1.28)]
TREND_AMMONIUM_DE_PIET = [(1, 0.76), (35, 0.57), (67, 0.38), (99, 0.23), (128, 0.17), (152, 0.15),
                          (200, 0.14), (248, 0.14), (275, 0.21), (302, 0.32), (328, 0.43), (354, 0.56)]
TREND_AMMONIUM_WILHELMINA = [(4, 0.68), (34, 0.57), (66, 0.41), (98, 0.30), (127, 0.25), (167, 0.26),
                             (204, 0.27), (252, 0.31), (279, 0.43), (311, 0.57), (332, 0.68), (352, 0.81)]
TREND_AMMONIUM_WILLEM = [(4, 0.80), (32, 0.66), (64, 0.49), (96, 0.33), (122, 0.22), (154, 0.15), (181, 0.15),
                         (207, 0.20), (239, 0.35), (266, 0.54), (297, 0.81), (324, 1.03), (349, 1.20)]
TREND_NITRAAT_ADRIAAN = [(3, 7.4), (27, 6.0), (53, 4.4), (80, 2.86), (106, 1.48), (133, 0.55), (159, 0.25),
                         (181, 0.18), (199, 0.46), (218, 0.95), (244, 1.4), (271, 2.1), (297, 3.0),
                         (324, 3.85), (345, 4.3)]
TREND_NITRAAT_DE_PIET = [(4, 4.8), (35, 3.8), (67, 2.74), (99, 1.57), (131, 0.55), (163, 0.12), (195, 0.06),
                         (227, 0.28), (259, 0.74), (291, 1.54), (323, 2.8), (354, 4.0)]
TREND_NITRAAT_WILHELMINA = [(4, 4.2), (34, 3.26), (66, 2.25), (98, 1.08), (130, 0.15), (162, 0.03),
                            (204, 0.06), (252, 0.2), (279, 0.7), (305, 1.63), (332, 2.7), (352, 3.6)]
TREND_NITRAAT_WILLEM = [(4, 6.3), (32, 5.2), (64, 3.7), (96, 2.3), (127, 1.08), (159, 0.46), (175, 0.4),
                        (202, 0.65), (228, 1.0), (260, 1.7), (287, 2.55), (319, 3.9), (349, 5.5)]
TREND_TOTAAL_ADRIAAN = [(3, 9.1), (27, 7.3), (53, 5.7), (80, 4.6), (106, 3.8), (133, 3.46), (159, 3.46),
                        (186, 3.6), (212, 4.0), (244, 4.28), (271, 4.5), (297, 4.96), (324, 5.5), (345, 5.9)]
TREND_TOTAAL_DE_PIET = [(4, 6.4), (35, 5.5), (67, 4.55), (99, 3.5), (131, 2.78), (163, 2.5), (195, 2.53),
                        (227, 2.7), (259, 2.97), (291, 3.6), (323, 4.55), (354, 5.56)]
TREND_TOTAAL_WILHELMINA = [(3, 5.9), (34, 4.8), (66, 3.7), (98, 2.9), (124, 2.5), (140, 2.5), (162, 2.7),
                           (194, 2.78), (226, 2.72), (252, 2.56), (279, 2.9), (305, 3.7), (332, 4.7), (352, 5.7)]
TREND_TOTAAL_WILLEM = [(4, 7.9), (32, 6.65), (64, 5.6), (96, 4.7), (127, 4.14), (159, 3.9), (191, 3.84),
                       (223, 3.9), (255, 4.06), (287, 4.7), (319, 5.5), (345, 6.27)]

METINGEN = {
    ("Ammonium", "Gemaal Adriaan"): AMMONIUM_ADRIAAN,
    ("Ammonium", "Gemaal De Piet"): AMMONIUM_DE_PIET,
    ("Ammonium", "Gemaal Wilhelmina"): AMMONIUM_WILHELMINA,
    ("Ammonium", "Gemaal Willem"): AMMONIUM_WILLEM,
    ("Nitraat", "Gemaal Adriaan"): NITRAAT_ADRIAAN,
    ("Nitraat", "Gemaal De Piet"): NITRAAT_DE_PIET,
    ("Nitraat", "Gemaal Wilhelmina"): NITRAAT_WILHELMINA,
    ("Nitraat", "Gemaal Willem"): NITRAAT_WILLEM,
    ("Stikstof Totaal", "Gemaal Adriaan"): TOTAAL_ADRIAAN,
    ("Stikstof Totaal", "Gemaal De Piet"): TOTAAL_DE_PIET,
    ("Stikstof Totaal", "Gemaal Wilhelmina"): TOTAAL_WILHELMINA,
    ("Stikstof Totaal", "Gemaal Willem"): TOTAAL_WILLEM,
}
BANDEN = {
    ("Ammonium", "Gemaal Adriaan"): BAND_AMMONIUM_ADRIAAN,
    ("Ammonium", "Gemaal De Piet"): BAND_AMMONIUM_DE_PIET,
    ("Ammonium", "Gemaal Wilhelmina"): BAND_AMMONIUM_WILHELMINA,
    ("Ammonium", "Gemaal Willem"): BAND_AMMONIUM_WILLEM,
    ("Nitraat", "Gemaal Adriaan"): BAND_NITRAAT_ADRIAAN,
    ("Nitraat", "Gemaal De Piet"): BAND_NITRAAT_DE_PIET,
    ("Nitraat", "Gemaal Wilhelmina"): BAND_NITRAAT_WILHELMINA,
    ("Nitraat", "Gemaal Willem"): BAND_NITRAAT_WILLEM,
    ("Stikstof Totaal", "Gemaal Adriaan"): BAND_TOTAAL_ADRIAAN,
    ("Stikstof Totaal", "Gemaal De Piet"): BAND_TOTAAL_DE_PIET,
    ("Stikstof Totaal", "Gemaal Wilhelmina"): BAND_TOTAAL_WILHELMINA,
    ("Stikstof Totaal", "Gemaal Willem"): BAND_TOTAAL_WILLEM,
}
TRENDS = {
    ("Ammonium", "Gemaal Adriaan"): TREND_AMMONIUM_ADRIAAN,
    ("Ammonium", "Gemaal De Piet"): TREND_AMMONIUM_DE_PIET,
    ("Ammonium", "Gemaal Wilhelmina"): TREND_AMMONIUM_WILHELMINA,
    ("Ammonium", "Gemaal Willem"): TREND_AMMONIUM_WILLEM,
    ("Nitraat", "Gemaal Adriaan"): TREND_NITRAAT_ADRIAAN,
    ("Nitraat", "Gemaal De Piet"): TREND_NITRAAT_DE_PIET,
    ("Nitraat", "Gemaal Wilhelmina"): TREND_NITRAAT_WILHELMINA,
    ("Nitraat", "Gemaal Willem"): TREND_NITRAAT_WILLEM,
    ("Stikstof Totaal", "Gemaal Adriaan"): TREND_TOTAAL_ADRIAAN,
    ("Stikstof Totaal", "Gemaal De Piet"): TREND_TOTAAL_DE_PIET,
    ("Stikstof Totaal", "Gemaal Wilhelmina"): TREND_TOTAAL_WILHELMINA,
    ("Stikstof Totaal", "Gemaal Willem"): TREND_TOTAAL_WILLEM,
}

# ---- panel geometry ---------------------------------------------------------
W, H = 242, 192.5
STRIP = 24
FONT = "Liberation Sans"

kleur = alt.Color(
    "jaar:N",
    scale=alt.Scale(domain=JAREN, range=KLEUREN),
    legend=alt.Legend(
        title="Jaar", orient="none", legendX=1030, legendY=225,
        symbolType="circle", symbolSize=40, symbolStrokeWidth=0,
        titleFontSize=14, titleFontWeight="normal", titleColor="black", titlePadding=12,
        labelFontSize=12, labelColor="black", rowPadding=11.6, labelOffset=8,
    ),
)


def minor(step, major_value, minor_value):
    return {"condition": {"test": f"datum.value % {step} != 0", "value": minor_value},
            "value": major_value}


def paneel(r, c):
    stof, gemaal = STOFFEN[r], GEMALEN[c]
    punten = pd.DataFrame(METINGEN[(stof, gemaal)], columns=["dag", "waarde", "jaar"])
    punten["jaar"] = punten["jaar"].astype(str)
    band = pd.DataFrame(BANDEN[(stof, gemaal)], columns=["dag", "laag", "hoog"])
    trend = pd.DataFrame(TRENDS[(stof, gemaal)], columns=["dag", "waarde"])

    onder, links = r == 2, c == 0
    stap = Y_STAP[stof]
    xs = alt.Scale(domain=X_DOMEIN, nice=False, zero=False)
    ys = alt.Scale(domain=Y_DOMEIN[stof], nice=False, zero=False)
    x_as = alt.Axis(
        values=X_RASTER, grid=True, labels=onder, ticks=onder, domain=False, title=None,
        labelExpr="datum.value % 100 == 0 ? format(datum.value, 'd') : ''",
        tickOpacity=minor(100, 1, 0), gridWidth=minor(100, 1.4, 0.7),
    )
    y_kw = dict(
        values=Y_RASTER[stof], grid=True, labels=links, ticks=links, domain=False,
        labelExpr=f"datum.value % {stap} == 0 ? format(datum.value, 'd') : ''",
        tickOpacity=minor(stap, 1, 0), gridWidth=minor(stap, 1.4, 0.7),
        minExtent=20, maxExtent=20,
    )
    if links and r == 1:
        y_as = alt.Axis(title="Concentratie [in mg/l]", titlePadding=6, **y_kw)
    else:
        y_as = alt.Axis(title=None, **y_kw)

    lagen = [
        alt.Chart(band).mark_area(color="#D9D9D9", opacity=1).encode(
            x=alt.X("dag:Q", scale=xs, axis=x_as),
            y=alt.Y("laag:Q", scale=ys, axis=y_as),
            y2="hoog:Q",
        ),
        alt.Chart(punten).mark_circle(size=20, opacity=1).encode(
            x=alt.X("dag:Q", scale=xs, axis=x_as),
            y=alt.Y("waarde:Q", scale=ys, axis=y_as),
            color=kleur,
        ),
        alt.Chart(trend).mark_line(color="black", strokeWidth=2.6, interpolate="monotone").encode(
            x=alt.X("dag:Q", scale=xs, axis=x_as),
            y=alt.Y("waarde:Q", scale=ys, axis=y_as),
        ),
    ]

    if r == 0:  # strip with station name above the top row
        kop = pd.DataFrame({"naam": [gemaal]})
        lagen.append(alt.Chart(kop).mark_rect(fill="#D9D9D9", stroke="#333333", strokeWidth=1).encode(
            x=alt.value(0), x2=alt.value(W), y=alt.value(-STRIP), y2=alt.value(0)))
        lagen.append(alt.Chart(kop).mark_text(fontSize=12, color="#1A1A1A", baseline="middle").encode(
            x=alt.value(W / 2), y=alt.value(-STRIP / 2), text="naam:N"))
    if c == 3:  # strip with parameter name right of the last column
        zij = pd.DataFrame({"naam": [stof]})
        lagen.append(alt.Chart(zij).mark_rect(fill="#D9D9D9", stroke="#333333", strokeWidth=1).encode(
            x=alt.value(W + 2), x2=alt.value(W + 2 + STRIP - 3), y=alt.value(0), y2=alt.value(H)))
        lagen.append(alt.Chart(zij).mark_text(fontSize=12, color="#1A1A1A", baseline="middle", angle=90).encode(
            x=alt.value(W + 2 + (STRIP - 3) / 2), y=alt.value(H / 2), text="naam:N"))
    if r == 2 and c == 1:  # shared x-axis title, centred under the grid
        titel = pd.DataFrame({"tekst": ["Dag in het jaar"]})
        lagen.append(alt.Chart(titel).mark_text(fontSize=14, color="black", baseline="middle").encode(
            x=alt.value(W + 2.75), y=alt.value(H + 27), text="tekst:N"))

    return alt.layer(*lagen).properties(width=W, height=H)


panelen = [paneel(r, c) for r in range(3) for c in range(4)]

chart = (
    alt.concat(*panelen, columns=4, spacing={"row": 7, "column": 5.5}, bounds="flush")
    .resolve_scale(color="shared")
    .properties(
        title=alt.TitleParams(
            "Stikstofconcentraties voor gemalen in Veerse Meer",
            anchor="start", fontSize=15, fontWeight="normal", color="black",
            font=FONT, offset=9, dx=40,
        ),
        padding={"left": 9, "top": 8, "right": 0, "bottom": 0},
    )
    .configure(font=FONT, background="white")
    .configure_view(stroke="#333333", strokeWidth=1)
    .configure_axis(
        gridColor="#EBEBEB", tickColor="#333333", tickSize=3.7, labelColor="#4D4D4D",
        labelFontSize=12, labelPadding=2.5, titleColor="black", titleFontSize=14,
        titleFontWeight="normal", labelFont=FONT, titleFont=FONT,
    )
    .configure_legend(labelFont=FONT, titleFont=FONT)
)

chart.save("out.html", embed_options={"renderer": "svg", "actions": False})
